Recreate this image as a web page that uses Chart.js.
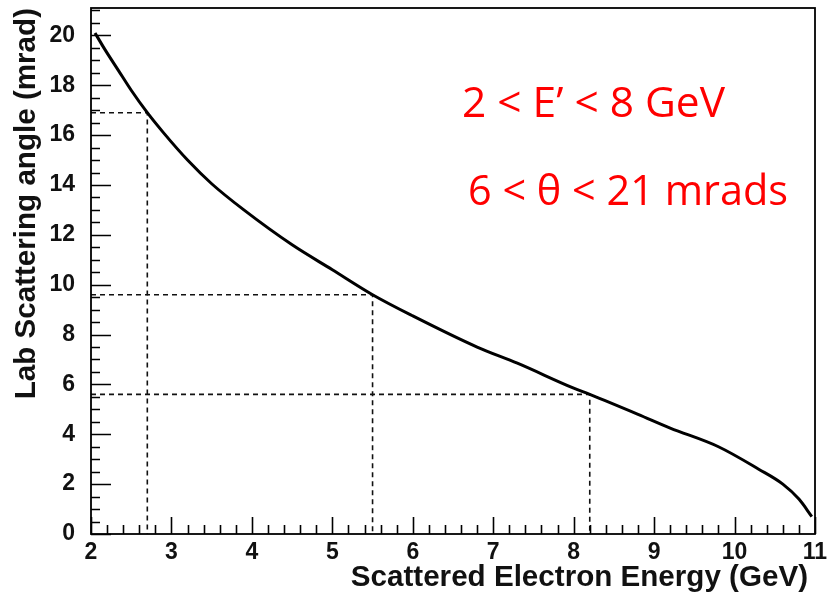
<!DOCTYPE html>
<html>
<head>
<meta charset="utf-8">
<script src="https://cdn.jsdelivr.net/npm/chart.js@4/dist/chart.umd.min.js"></script>
<style>
  html, body { margin: 0; padding: 0; background: #fff; }
  #wrap { width: 829px; height: 603px; }
</style>
</head>
<body>
<div id="wrap"><canvas id="chart1" width="829" height="603"></canvas></div>
<script>
// scattered electron energy (GeV) vs lab scattering angle (mrad)
const energy = [2.05, 2.17, 2.34, 2.5, 2.7, 2.9, 3.2, 3.5, 3.9, 4.5, 5.0, 5.5, 6.0, 6.8, 7.3, 8.0, 8.2, 8.8, 9.2, 9.8, 10.3, 10.6, 10.8, 10.96];
const angle = [20.1, 19.45, 18.6, 17.8, 16.9, 16.1, 15.0, 14.05, 13.0, 11.6, 10.6, 9.6, 8.75, 7.5, 6.85, 5.85, 5.6, 4.8, 4.25, 3.5, 2.6, 2.0, 1.4, 0.7];

// dashed read-off guides
const guideE = [2.7, 5.5, 8.2];
const guideTheta = [16.9, 9.6, 5.6];

const xTicks = [2, 3, 4, 5, 6, 7, 8, 9, 10, 11];
const yTicks = [0, 2, 4, 6, 8, 10, 12, 14, 16, 18, 20];
const xRange = [2, 11];
const yRange = [0, 21.1];
const xMinorStep = 0.2;
const yMinorStep = 0.5;

const xTitle = 'Scattered Electron Energy (GeV)';
const yTitle = 'Lab Scattering angle (mrad)';
const notes = ['2 < E\u2019 < 8 GeV', '6 < \u03b8 < 21 mrads'];

const curve = energy.map((e, i) => ({ x: e, y: angle[i] }));

const guides = guideE.map((e, i) => ({
  data: [{ x: xRange[0], y: guideTheta[i] }, { x: e, y: guideTheta[i] }, { x: e, y: 0 }],
  borderColor: '#111',
  borderWidth: 1.6,
  borderDash: [5, 4],
  pointRadius: 0,
  tension: 0,
  showLine: true,
  order: 2
}));

// frame, inward ticks, axis titles and the red notes
const rootStyle = {
  id: 'rootStyle',
  afterDatasetsDraw(chart) {
    const { ctx, chartArea: a, scales: { x, y } } = chart;
    ctx.save();
    ctx.strokeStyle = '#000';
    ctx.lineWidth = 1.6;
    ctx.beginPath();
    for (let v = xRange[0]; v <= xRange[1] + 1e-6; v += xMinorStep) {
      const px = Math.round(x.getPixelForValue(v)) + 0.5;
      const major = Math.abs(v - Math.round(v)) < 1e-6;
      ctx.moveTo(px, a.bottom);
      ctx.lineTo(px, a.bottom - (major ? 17 : 9));
    }
    for (let v = yRange[0]; v <= yRange[1] + 1e-6; v += yMinorStep) {
      const py = Math.round(y.getPixelForValue(v)) + 0.5;
      const major = Math.abs(v / 2 - Math.round(v / 2)) < 1e-6;
      ctx.moveTo(a.left, py);
      ctx.lineTo(a.left + (major ? 20 : 9), py);
    }
    ctx.stroke();

    ctx.lineWidth = 1.8;
    ctx.strokeRect(a.left, a.top, a.right - a.left, a.bottom - a.top);

    ctx.fillStyle = '#111';
    ctx.font = 'bold 29.6px "Liberation Sans", Arial, sans-serif';
    ctx.textAlign = 'right';
    ctx.textBaseline = 'alphabetic';
    ctx.fillText(xTitle, 808, 586);

    ctx.save();
    ctx.translate(35, 8);
    ctx.rotate(-Math.PI / 2);
    ctx.textAlign = 'right';
    ctx.fillText(yTitle, 0, 0);
    ctx.restore();

    // red notes, squeezed to the width of the original lettering
    ctx.fillStyle = '#ff0000';
    ctx.font = '42px "Open Sans", sans-serif';
    ctx.textAlign = 'left';
    const spots = [[462, 117, 263], [468, 205, 320]];
    notes.forEach((t, i) => {
      const [tx, ty, tw] = spots[i];
      const w = ctx.measureText(t).width;
      ctx.save();
      ctx.translate(tx, ty);
      ctx.scale(tw / w, 1);
      ctx.fillText(t, 0, 0);
      ctx.restore();
    });
    ctx.restore();
  }
};

const tickFont = { family: '"Liberation Sans", Arial, sans-serif', size: 23, weight: 'bold' };

// keep the tick labels from pushing the plot frame inwards
const noLabelPadding = (s) => {
  s.paddingTop = 0;
  s.paddingBottom = 0;
  s.paddingLeft = 0;
  s.paddingRight = 0;
};

new Chart(document.getElementById('chart1'), {
  type: 'scatter',
  data: {
    datasets: [{
      data: curve,
      borderColor: '#000',
      borderWidth: 3,
      pointRadius: 0,
      showLine: true,
      cubicInterpolationMode: 'monotone',
      order: 1
    }, ...guides]
  },
  options: {
    responsive: false,
    animation: false,
    devicePixelRatio: 1,
    layout: { autoPadding: false, padding: { left: 0, right: 14, top: 8, bottom: 0 } },
    plugins: { legend: { display: false }, tooltip: { enabled: false } },
    scales: {
      x: {
        type: 'linear',
        min: xRange[0],
        max: xRange[1],
        afterBuildTicks: (s) => { s.ticks = xTicks.map((v) => ({ value: v })); },
        afterFit: (s) => { s.height = 69; noLabelPadding(s); },
        grid: { display: false },
        border: { display: false },
        ticks: { color: '#111', padding: -3, maxRotation: 0, autoSkip: false, font: tickFont }
      },
      y: {
        type: 'linear',
        min: yRange[0],
        max: yRange[1],
        afterBuildTicks: (s) => { s.ticks = yTicks.map((v) => ({ value: v })); },
        afterFit: (s) => { s.width = 91; noLabelPadding(s); },
        grid: { display: false },
        border: { display: false },
        ticks: { color: '#111', padding: 8, autoSkip: false, font: tickFont }
      }
    }
  },
  plugins: [rootStyle]
});
</script>
</body>
</html>
